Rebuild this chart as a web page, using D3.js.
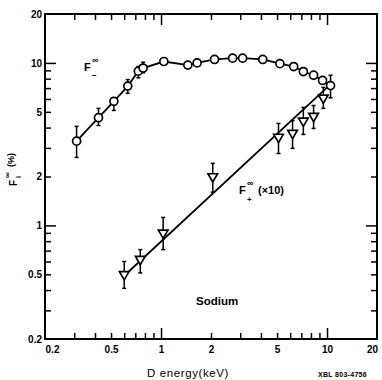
<!DOCTYPE html>
<html>
<head>
<meta charset="utf-8">
<script src="https://cdn.jsdelivr.net/npm/d3@7/dist/d3.min.js"></script>
<style>
  html, body { margin: 0; padding: 0; background: #fff; }
  svg { display: block; }
  text { font-family: "Liberation Sans", Arial, sans-serif; fill: #000; }
</style>
</head>
<body>
<svg id="chart" width="382" height="380"></svg>
<script>
// ---- data ----
const fMinusX = [0.31, 0.42, 0.52, 0.63, 0.73, 0.78, 1.04, 1.45, 1.65, 2.1, 2.7, 3.1, 4.1, 5.2, 6.3, 7.2, 8.3, 9.4, 10.5];
const fMinusY = [3.3, 4.6, 5.8, 7.2, 8.9, 9.3, 10.2, 9.7, 10.0, 10.5, 10.7, 10.7, 10.5, 9.9, 9.5, 8.85, 8.4, 7.8, 7.25];
const fMinusLo = [2.62, 4.12, 5.1, 6.5, 8.1, 8.7, null, null, null, null, null, null, null, null, null, null, null, null, 6.1];
const fMinusHi = [4.07, 5.25, 6.1, 7.9, 9.5, 10.1, null, null, null, null, null, null, null, null, null, null, null, null, 8.4];

const fPlusX = [0.6, 0.75, 1.03, 2.05, 5.1, 6.2, 7.2, 8.3, 9.5];
const fPlusY = [0.50, 0.62, 0.90, 2.0, 3.5, 3.7, 4.4, 4.7, 6.1];
const fPlusLo = [0.41, 0.51, 0.71, 1.6, 2.77, 2.98, 3.63, 3.95, 5.25];
const fPlusHi = [0.60, 0.71, 1.12, 2.41, 4.24, 4.42, 5.32, 5.47, 7.07];

const fitPlusX = [0.6, 10.8];
const fitPlusY = [0.49, 7.6];

const tickValuesMajor = [0.2, 0.5, 1, 2, 5, 10, 20];
const tickLabels = ["0.2", "0.5", "1", "2", "5", "10", "20"];
const minorTickValues = [0.3, 0.4, 0.5, 0.6, 0.7, 0.8, 0.9, 1, 2, 3, 4, 5, 6, 7, 8, 9, 10];
const decadeTicks = [1, 10];

// ---- layout ----
const svg = d3.select("#chart");
const L = 45, R = 377, T = 14, B = 339;
const x = d3.scaleLog().domain([0.2, 20]).range([L, R]);
const y = d3.scaleLog().domain([0.2, 20]).range([B, T]);

const isDecade = v => decadeTicks.some(d => Math.abs(d - v) < 1e-9);
const tickLen = v => isDecade(v) ? 11 : 6;

// inward ticks on all four sides
function tickAxis(axisGen, transform, horizontal, sign) {
  const g = svg.append("g").attr("transform", transform)
    .call(axisGen.tickValues(minorTickValues).tickFormat("").tickSizeOuter(0));
  g.select(".domain").remove();
  g.selectAll(".tick line")
    .attr("stroke", "#000").attr("stroke-width", 1.5)
    .attr(horizontal ? "y2" : "x2", d => sign * tickLen(d));
  return g;
}
tickAxis(d3.axisBottom(x), `translate(0,${B})`, true, -1);
tickAxis(d3.axisTop(x), `translate(0,${T})`, true, 1);
tickAxis(d3.axisLeft(y), `translate(${L},0)`, false, 1);
tickAxis(d3.axisRight(y), `translate(${R},0)`, false, -1);

// tick labels
const fmt = v => tickLabels[tickValuesMajor.indexOf(v)];
const xl = svg.append("g").attr("transform", `translate(0,${B})`)
  .call(d3.axisBottom(x).tickValues(tickValuesMajor).tickFormat(fmt).tickSize(0).tickPadding(7));
xl.select(".domain").remove();
xl.selectAll("text").attr("font-size", 10).attr("font-weight", "bold")
  .attr("font-family", "Liberation Sans, Arial, sans-serif")
  .attr("dx", (d, i) => i === 0 ? 7 : (i === tickValuesMajor.length - 1 ? -5 : 0));

const yl = svg.append("g").attr("transform", `translate(${L},0)`)
  .call(d3.axisLeft(y).tickValues(tickValuesMajor).tickFormat(fmt).tickSize(0).tickPadding(3));
yl.select(".domain").remove();
yl.selectAll("text").attr("font-size", 10).attr("font-weight", "bold")
  .attr("font-family", "Liberation Sans, Arial, sans-serif");

// frame
svg.append("rect").attr("x", L).attr("y", T).attr("width", R - L).attr("height", B - T)
  .attr("fill", "none").attr("stroke", "#000").attr("stroke-width", 2);

// lines
const minusPts = fMinusX.map((v, i) => [v, fMinusY[i]]);
const line = d3.line().x(d => x(d[0])).y(d => y(d[1]));
svg.append("path").datum(minusPts).attr("d", line)
  .attr("fill", "none").attr("stroke", "#000").attr("stroke-width", 1.8);
const fitPts = fitPlusX.map((v, i) => [v, fitPlusY[i]]);
svg.append("path").datum(fitPts).attr("d", line)
  .attr("fill", "none").attr("stroke", "#000").attr("stroke-width", 1.8);

// error bars
function errBars(xs, lo, hi) {
  const data = xs.map((v, i) => ({ x: v, lo: lo[i], hi: hi[i] })).filter(d => d.lo != null);
  const g = svg.append("g").attr("stroke", "#000").attr("stroke-width", 1.5);
  g.selectAll(".eb").data(data).join("line")
    .attr("x1", d => x(d.x)).attr("x2", d => x(d.x))
    .attr("y1", d => y(d.lo)).attr("y2", d => y(d.hi));
  g.selectAll(".capHi").data(data).join("line")
    .attr("x1", d => x(d.x) - 2).attr("x2", d => x(d.x) + 2)
    .attr("y1", d => y(d.hi)).attr("y2", d => y(d.hi));
  g.selectAll(".capLo").data(data).join("line")
    .attr("x1", d => x(d.x) - 2).attr("x2", d => x(d.x) + 2)
    .attr("y1", d => y(d.lo)).attr("y2", d => y(d.lo));
}
errBars(fMinusX, fMinusLo, fMinusHi);
errBars(fPlusX, fPlusLo, fPlusHi);

// markers
svg.append("g").selectAll("circle").data(minusPts).join("circle")
  .attr("cx", d => x(d[0])).attr("cy", d => y(d[1])).attr("r", 4)
  .attr("fill", "#fff").attr("stroke", "#000").attr("stroke-width", 1.7);

const plusPts = fPlusX.map((v, i) => [v, fPlusY[i]]);
const tri = d3.symbol().type(d3.symbolTriangle).size(40);
svg.append("g").selectAll("path").data(plusPts).join("path")
  .attr("d", tri)
  .attr("transform", d => `translate(${x(d[0])},${y(d[1])}) rotate(180)`)
  .attr("fill", "#fff").attr("stroke", "#000").attr("stroke-width", 1.7);

// annotations
function label(tx, ty, txt, size, weight) {
  return svg.append("text").attr("x", tx).attr("y", ty).attr("font-size", size)
    .attr("font-weight", weight || "bold").text(txt);
}
// F_-^inf
label(84, 71, "F", 11);
label(92, 63, "∞", 9);
label(92, 78, "−", 8);
// F_+^inf (x10)
label(239, 194, "F", 11);
label(247, 186, "∞", 9);
label(247, 202, "+", 8);
label(258, 194, "(×10)", 11);
// Sodium
label(196, 305, "Sodium", 11.5);

// axis titles
svg.append("text").attr("x", 188).attr("y", 377).attr("text-anchor", "middle")
  .attr("font-size", 11.5).attr("letter-spacing", 0.6).text("D energy(keV)");
svg.append("text").attr("x", 318).attr("y", 377).attr("font-size", 7)
  .attr("font-weight", "bold").attr("letter-spacing", 0.3).text("XBL 803-4756");

const yt = svg.append("g").attr("transform", "translate(17,186) rotate(-90)");
yt.append("text").attr("x", 0).attr("y", 0).attr("font-size", 10).attr("font-weight", "bold").text("F");
yt.append("text").attr("x", 8).attr("y", -7).attr("font-size", 8).attr("font-weight", "bold").text("∞");
yt.append("text").attr("x", 8).attr("y", 4).attr("font-size", 7).attr("font-weight", "bold").text("i");
yt.append("text").attr("x", 19).attr("y", -3).attr("font-size", 9).attr("font-weight", "bold").text("(%)");
</script>
</body>
</html>
